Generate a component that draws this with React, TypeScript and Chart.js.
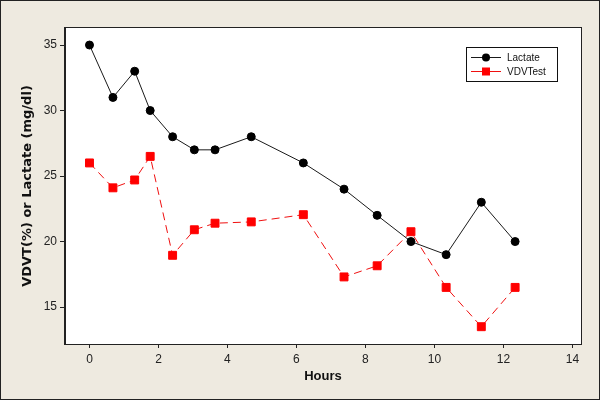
import React, { useEffect, useRef } from "react";
import { Chart, registerables } from "chart.js";

Chart.register(...registerables);

const hours = [0, 0.68, 1.31, 1.76, 2.41, 3.04, 3.64, 4.69, 6.2, 7.38, 8.34, 9.32, 10.34, 11.36, 12.34];
const lactate = [35, 31, 33, 30, 28, 27, 27, 28, 26, 24, 22, 20, 19, 23, 20];
const vdvTest = [26, 24.1, 24.7, 26.5, 18.95, 20.9, 21.4, 21.5, 22.05, 17.3, 18.15, 20.75, 16.5, 13.5, 16.5];
const xTicks = [0, 2, 4, 6, 8, 10, 12, 14];
const yTicks = [15, 20, 25, 30, 35];

const BG = "#EEEAE0";
const FONT = "'Liberation Sans', Arial, sans-serif";
const WIDE = "'DejaVu Sans', Verdana, sans-serif";

const frame = {
  id: "frame",
  beforeDraw(chart: any) {
    const { ctx, width, height } = chart;
    ctx.save();
    ctx.fillStyle = BG;
    ctx.fillRect(0, 0, width, height);
    ctx.strokeStyle = "#222";
    ctx.lineWidth = 1;
    ctx.strokeRect(0.5, 0.5, width - 1, height - 1);
    const a = chart.chartArea;
    ctx.fillStyle = "#fff";
    ctx.fillRect(a.left, a.top, a.right - a.left, a.bottom - a.top);
    ctx.restore();
  },
  afterDatasetsDraw(chart: any) {
    const { ctx } = chart;
    const a = chart.chartArea;
    ctx.save();
    ctx.strokeStyle = "#222";
    ctx.lineWidth = 1;
    ctx.strokeRect(Math.round(a.left) - 0.5, Math.round(a.top) - 0.5, Math.round(a.right - a.left) + 1, Math.round(a.bottom - a.top) + 1);
    // legend
    const lx = 466, ly = 47, lw = 91, lh = 34;
    ctx.fillStyle = "#fff";
    ctx.fillRect(lx, ly, lw, lh);
    ctx.strokeStyle = "#111";
    ctx.strokeRect(lx + 0.5, ly + 0.5, lw, lh);
    const items = chart.data.datasets;
    const rows = [57, 71];
    items.forEach((ds: any, i: number) => {
      const y = rows[i];
      ctx.strokeStyle = ds.borderColor;
      ctx.lineWidth = 1;
      ctx.setLineDash([]);
      ctx.beginPath();
      ctx.moveTo(471, y + 0.5);
      ctx.lineTo(501, y + 0.5);
      ctx.stroke();
      ctx.fillStyle = ds.pointBackgroundColor;
      if (ds.pointStyle === "circle") {
        ctx.beginPath();
        ctx.arc(486, y + 0.5, 4, 0, Math.PI * 2);
        ctx.fill();
      } else {
        ctx.fillRect(482, y - 3.5, 8, 8);
      }
      ctx.fillStyle = "#111";
      ctx.font = `10px ${FONT}`;
      ctx.textBaseline = "middle";
      ctx.textAlign = "left";
      ctx.fillText(ds.label, 507, y + 1);
    });
    ctx.restore();
  },
};

export default function App() {
  const ref = useRef<HTMLCanvasElement | null>(null);
  useEffect(() => {
    document.body.style.margin = "0";
    const chart = new Chart(ref.current as HTMLCanvasElement, {
      type: "line",
      data: {
        datasets: [
          {
            label: "Lactate",
            data: hours.map((h, i) => ({ x: h, y: lactate[i] })),
            borderColor: "#1a1a1a",
            backgroundColor: "#000",
            pointBackgroundColor: "#000",
            pointBorderColor: "#000",
            pointStyle: "circle",
            pointRadius: 4,
            borderWidth: 1,
            tension: 0,
          },
          {
            label: "VDVTest",
            data: hours.map((h, i) => ({ x: h, y: vdvTest[i] })),
            borderColor: "#F01010",
            backgroundColor: "#F00",
            pointBackgroundColor: "#F00",
            pointBorderColor: "#F00",
            pointStyle: "rect",
            pointRadius: 5.6,
            borderWidth: 1,
            borderDash: [8, 5],
            tension: 0,
          },
        ],
      },
      options: {
        animation: false,
        responsive: false,
        devicePixelRatio: 1,
        layout: { padding: { top: 28, right: 19, left: 0, bottom: 0 } },
        plugins: { legend: { display: false }, tooltip: { enabled: false } },
        scales: {
          x: {
            type: "linear",
            min: -0.71,
            max: 14.25,
            afterBuildTicks: (s: any) => {
              s.ticks = xTicks.map((v) => ({ value: v }));
            },
            afterFit: (s: any) => {
              s.height = 56;
            },
            grid: { drawOnChartArea: false, drawTicks: true, tickLength: 4, color: "#222" },
            border: { display: true, color: "#222" },
            ticks: { color: "#222", font: { family: FONT, size: 12 }, padding: 4 },
            title: {
              display: true,
              text: "Hours",
              color: "#111",
              font: { family: FONT, size: 13, weight: "bold" },
              padding: { top: 2, bottom: 16 },
            },
          },
          y: {
            type: "linear",
            min: 12.18,
            max: 36.3,
            afterBuildTicks: (s: any) => {
              s.ticks = yTicks.map((v) => ({ value: v }));
            },
            afterFit: (s: any) => {
              s.width = 65;
            },
            grid: { drawOnChartArea: false, drawTicks: true, tickLength: 5, color: "#222" },
            border: { display: true, color: "#222" },
            ticks: { color: "#222", font: { family: FONT, size: 12 }, padding: 3 },
            title: {
              display: true,
              text: "VDVT(%) or Lactate (mg/dl)",
              color: "#111",
              font: { family: WIDE, size: 13, weight: "bold" },
              padding: { top: 20, bottom: 8 },
            },
          },
        },
      },
      plugins: [frame],
    } as any);
    return () => chart.destroy();
  }, []);
  return (
    <div style={{ position: "absolute", left: 0, top: 0, width: 600, height: 400 }}>
      <canvas ref={ref} width={600} height={400} style={{ width: 600, height: 400, display: "block" }} />
    </div>
  );
}
